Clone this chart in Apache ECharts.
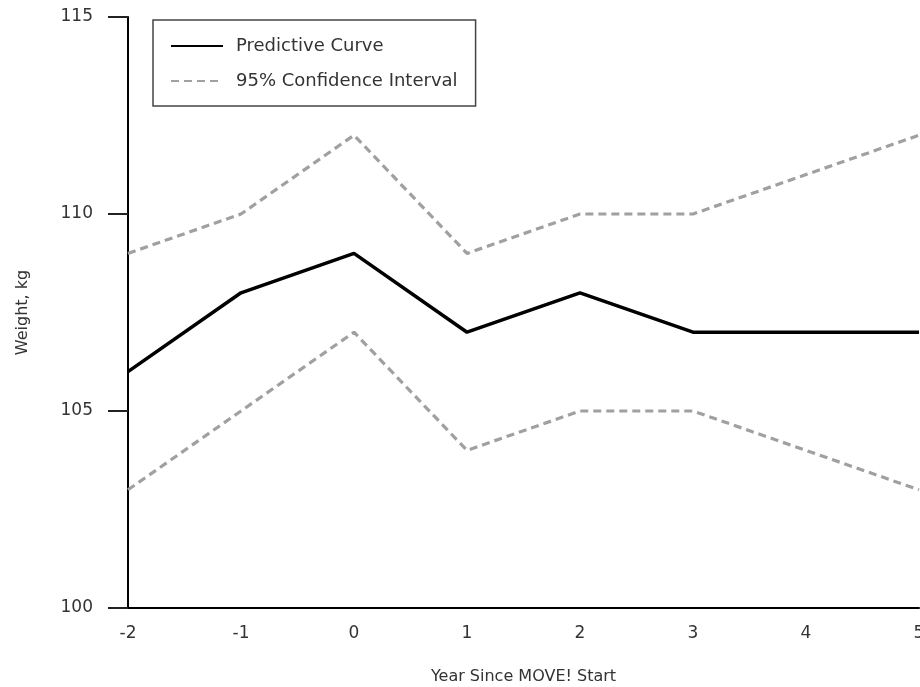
<!DOCTYPE html>
<html>
<head>
<meta charset="utf-8">
<script src="https://cdn.jsdelivr.net/npm/echarts@6/dist/echarts.min.js"></script>
<style>
  html, body { margin: 0; padding: 0; background: #fff; }
  #main { width: 920px; height: 687px; }
</style>
</head>
<body>
<div id="main"></div>
<script>
// years relative to program start
const years = [-2, -1, 0, 1, 2, 3, 4, 5]
const predictive = [106, 108, 109, 107, 108, 107, 107, 107]
const upperCI = [109, 110, 112, 109, 110, 110, 111, 112]
const lowerCI = [103, 105, 107, 104, 105, 105, 104, 103]

const pairs = arr => years.map((x, i) => [x, arr[i]])

const font = 'DejaVu Sans, Verdana, sans-serif'
const dashStyle = { color: '#a0a0a0', width: 3.2, type: [8, 5] }

const chart = echarts.init(document.getElementById('main'))
chart.setOption({
  animation: false,
  textStyle: { fontFamily: font },
  grid: { left: 128, right: 1, top: 17, bottom: 79, containLabel: false, outerBoundsMode: 'none' },
  legend: {
    left: 153,
    top: 20,
    orient: 'vertical',
    padding: [17, 18, 16, 17],
    itemWidth: 52,
    itemHeight: 14,
    itemGap: 17,
    borderColor: '#444',
    borderWidth: 1.5,
    itemStyle: { opacity: 0 },
    textStyle: { fontFamily: font, fontSize: 18, lineHeight: 18, color: '#333', padding: [0, 0, 0, 8] },
    data: ['Predictive Curve', '95% Confidence Interval']
  },
  xAxis: {
    type: 'value',
    min: -2,
    max: 5,
    interval: 1,
    name: 'Year Since MOVE! Start',
    nameLocation: 'middle',
    nameGap: 61,
    nameTextStyle: { fontFamily: font, fontSize: 16, color: '#333' },
    axisLine: { onZero: false, lineStyle: { color: '#000', width: 2 } },
    axisTick: { show: false },
    axisLabel: { margin: 17, fontSize: 17, color: '#333', fontFamily: font },
    splitLine: { show: false }
  },
  yAxis: {
    type: 'value',
    min: 100,
    max: 115,
    interval: 5,
    name: 'Weight, kg',
    nameLocation: 'middle',
    nameGap: 97,
    nameRotate: 90,
    nameTextStyle: { fontFamily: font, fontSize: 16, color: '#333' },
    axisLine: { show: true, onZero: false, lineStyle: { color: '#000', width: 2 } },
    axisTick: { show: true, length: 20, lineStyle: { color: '#222', width: 2 } },
    axisLabel: { margin: 35, fontSize: 17, color: '#333', fontFamily: font },
    splitLine: { show: false }
  },
  series: [
    {
      name: 'Predictive Curve',
      type: 'line',
      symbol: 'none',
      data: pairs(predictive),
      lineStyle: { color: '#000', width: 3.5 },
      itemStyle: { color: '#000' },
      z: 3
    },
    {
      name: '95% Confidence Interval',
      type: 'line',
      symbol: 'none',
      data: pairs(upperCI),
      lineStyle: dashStyle,
      itemStyle: { color: '#a0a0a0' }
    },
    {
      name: '95% Confidence Interval',
      type: 'line',
      symbol: 'none',
      data: pairs(lowerCI),
      lineStyle: dashStyle,
      itemStyle: { color: '#a0a0a0' }
    }
  ]
})
</script>
</body>
</html>
